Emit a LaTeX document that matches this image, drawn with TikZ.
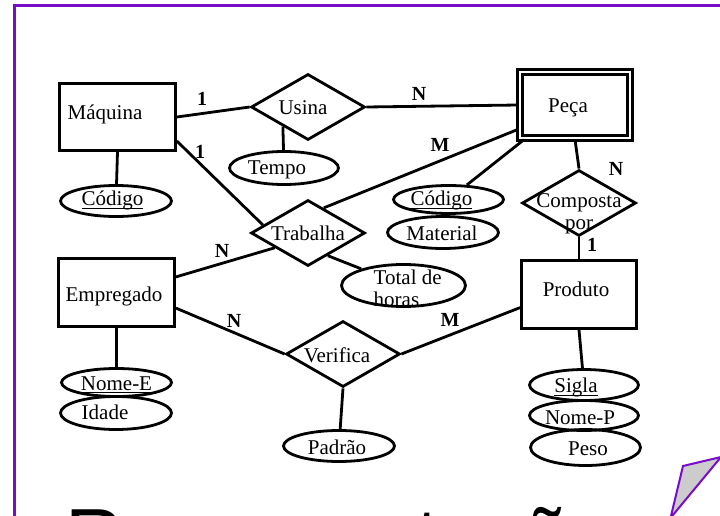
\documentclass[tikz,border=0pt]{standalone}
\usepackage{fontspec}
\setmainfont{Liberation Serif}
\setsansfont{Liberation Sans}
\usetikzlibrary{shapes.geometric,calc}
\definecolor{framepurple}{RGB}{120,12,200}
\definecolor{notegray}{RGB}{204,204,204}
% underlined key attribute, with the rule just below the baseline
\newsavebox\keybox
\newcommand{\keyattr}[1]{\sbox\keybox{#1}\rlap{\rule[-3pt]{\wd\keybox}{1.2pt}}\usebox\keybox}

\begin{document}
\begin{tikzpicture}[x=1pt,y=-1pt,
  er/.style={draw=black,line width=2.8pt,inner sep=0pt},
  entity/.style={er,rectangle},
  weakentity/.style={er,rectangle,double,double distance=2.2pt,line width=3.2pt},
  rel/.style={er,diamond,minimum width=114pt,minimum height=66pt},
  attr/.style={er,ellipse},
  lbl/.style={inner sep=0pt,font=\fontsize{21}{22}\selectfont,text height=20pt,text depth=4.1pt},
  lbltwo/.style={inner sep=0pt,font=\fontsize{21}{22}\selectfont},
  card/.style={inner sep=0pt,font=\fontsize{20}{20}\selectfont\bfseries},
  link/.style={line width=2.8pt},
]
\useasboundingbox (0,0) rectangle (720,516);
\begin{scope}
\clip (0,0) rectangle (720,516);

% slide frame
\draw[framepurple,line width=3pt] (14.7,5.7) rectangle (740,540);

% entities
\node[entity,minimum width=116pt,minimum height=67pt,
  label={[lbl,xshift=-12.5pt,yshift=5pt]center:Máquina}] (maq) at (117.5,117) {};
\node[entity,minimum width=116pt,minimum height=68pt,
  label={[lbl,xshift=-2.5pt,yshift=-1.5pt]center:Empregado}] (emp) at (116.5,292.5) {};
\node[entity,minimum width=115pt,minimum height=68pt,
  label={[lbl,xshift=-3pt,yshift=5.5pt]center:Produto}] (prod) at (579,294.5) {};
\node[weakentity,minimum width=110pt,minimum height=66pt,
  label={[lbl,xshift=-7pt]center:Peça}] (peca) at (575,105) {};

% relationships
\node[rel,label={[lbl,xshift=-5pt]center:Usina}] (usina) at (308,107) {};
\node[rel,label={[lbl]center:Trabalha}] (trab) at (308,233) {};
\node[rel,label={[lbl,xshift=-6pt,yshift=-1pt]center:Verifica}] (verif) at (343,354) {};
\node[rel,label={[lbltwo,align=center,yshift=-11pt]center:{Composta\\por}}] (comp) at (579,203) {};

% attributes
\node[attr,minimum width=111pt,minimum height=31pt,
  label={[lbl,xshift=-3.5pt,yshift=3pt]center:\keyattr{Código}}] (codm) at (116,201) {};
\node[attr,minimum width=109pt,minimum height=33pt,
  label={[lbl,xshift=-7pt,yshift=1pt]center:Tempo}] (tempo) at (284,168) {};
\node[attr,minimum width=110pt,minimum height=28pt,
  label={[lbl,xshift=-7pt,yshift=1.5pt]center:\keyattr{Código}}] (codp) at (448.5,199.5) {};
\node[attr,minimum width=111pt,minimum height=32pt,
  label={[lbl,xshift=-1pt]center:Material}] (mat) at (443,232.5) {};
\node[attr,minimum width=124pt,minimum height=42pt,
  label={[lbltwo,align=left,xshift=4.2pt,yshift=-2.5pt]center:{Total de\\horas}}] (tot) at (403.5,285.5) {};
\node[attr,minimum width=110pt,minimum height=28pt,
  label={[lbl]center:\keyattr{Nome-E}}] (nomee) at (116.5,382.5) {};
\node[attr,minimum width=111pt,minimum height=33pt,
  label={[lbl,xshift=-11pt,yshift=1pt]center:Idade}] (idade) at (116,413) {};
\node[attr,minimum width=109pt,minimum height=31pt,
  label={[lbl,xshift=-8pt]center:\keyattr{Sigla}}] (sigla) at (584,385) {};
\node[attr,minimum width=109pt,minimum height=30pt,
  label={[lbl,xshift=-4pt,yshift=-1.5pt]center:Nome-P}] (nomep) at (584,415.5) {};
\node[attr,minimum width=110pt,minimum height=36pt,
  label={[lbl,xshift=2.5pt]center:Peso}] (peso) at (585.5,447.5) {};
\node[attr,minimum width=111pt,minimum height=31pt,
  label={[lbl,xshift=-2pt,yshift=-1pt]center:Padrão}] (padrao) at (339,446) {};

% connectors
\draw[link] (maq.east) -- (usina.west);
\draw[link] ($(maq.east)!0.69!(maq.south east)$) -- ($(trab.west)!0.23!(trab.north)$);
\draw[link] (usina.east) -- (peca.west);
\draw[link] ($(peca.west)!0.7!(peca.south west)$) -- ($(trab.north)!0.27!(trab.east)$);
\draw[link] ($(usina.west)!0.57!(usina.south)$) -- (tempo);
\draw[link] (maq.south) -- (codm);
\draw[link] ($(peca.south west)!0.05!(peca.south east)$) -- (codp);
\draw[link] (peca.south) -- (comp.north);
\draw[link] (comp.south) -- (prod.north);
\draw[link] ($(trab.west)!0.43!(trab.south)$) -- ($(emp.east)!0.44!(emp.north east)$);
\draw[link] ($(trab.south)!0.34!(trab.east)$) -- (tot);
\draw[link] ($(emp.east)!0.44!(emp.south east)$) -- (verif.west);
\draw[link] (verif.east) -- ($(prod.west)!0.37!(prod.south west)$);
\draw[link] (verif.south) -- (padrao);
\draw[link] (prod.south) -- (sigla);
\draw[link] (emp.south) -- (nomee);

% cardinalities
\node[card] (c-maq-usina) at (202,98.5) {1};
\node[card] (c-maq-trab) at (200,152) {1};
\node[card] (c-usina-peca) at (419,94) {N};
\node[card] (c-peca-trab) at (440,144.5) {M};
\node[card] (c-peca-comp) at (616,169) {N};
\node[card] (c-comp-prod) at (592,245) {1};
\node[card] (c-trab-emp) at (222,251) {N};
\node[card] (c-emp-verif) at (234,321) {N};
\node[card] (c-verif-prod) at (450,320) {M};

% folded corner of the slide
\filldraw[fill=notegray,draw=framepurple,line width=2pt,line join=miter]
  (670.5,518) -- (683,466) -- (721,457) -- cycle;

% slide title
\node[anchor=base west,inner sep=0pt,font=\sffamily\fontsize{81}{81}\selectfont] (title) at (65,565) {Representação};
\end{scope}
\end{tikzpicture}
\end{document}
